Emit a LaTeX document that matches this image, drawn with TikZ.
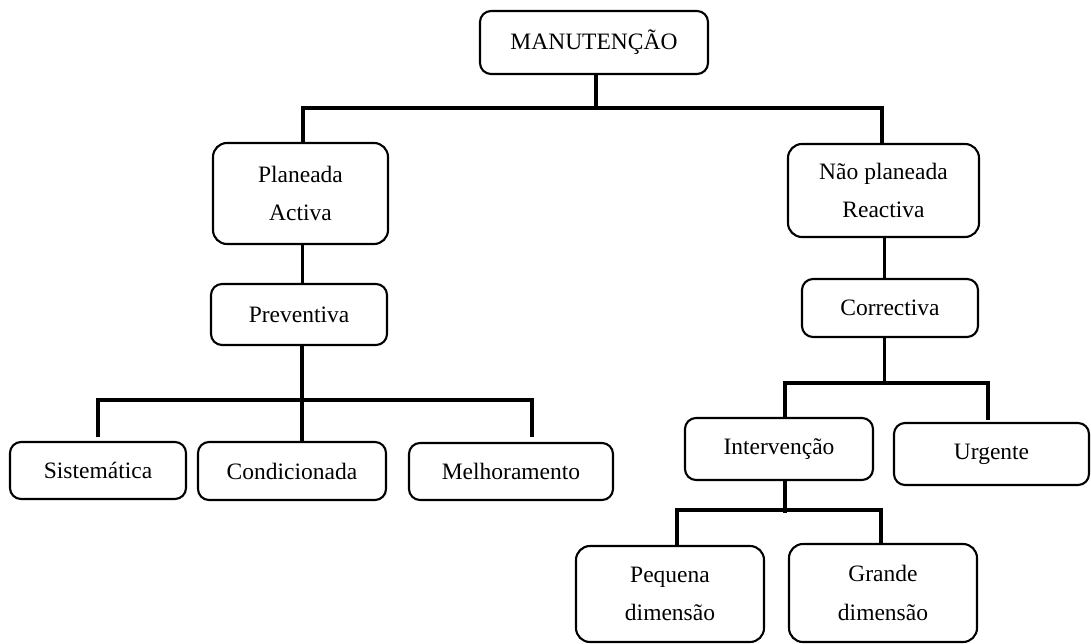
\documentclass[tikz,border=0pt]{standalone}
\usepackage{fontspec}
\setmainfont{Liberation Serif}
\begin{document}
\begin{tikzpicture}[x=1pt,y=-1pt,
  box/.style={draw=black, line width=2.1pt, rounded corners=11pt, fill=white,
    inner sep=0pt, align=center, font=\fontsize{23.5}{38.5}\selectfont},
  conn/.style={draw=black, line width=3.4pt}]
\useasboundingbox (0,0) rectangle (1091,644);

% nodes
\node[box, minimum width=228pt, minimum height=63pt]  (top) at (594,42.5) {MANUTENÇÃO};
\node[box, minimum width=175pt, minimum height=101pt, rounded corners=14pt] (pl) at (300.5,193.5) {Planeada\\Activa};
\node[box, minimum width=191pt, minimum height=93pt, rounded corners=14pt]  (np) at (883.5,190.5) {Não planeada\\Reactiva};
\node[box, minimum width=176pt, minimum height=61pt]  (pv) at (299,314.5) {Preventiva};
\node[box, minimum width=176pt, minimum height=58pt]  (co) at (890,308) {Correctiva};
\node[box, minimum width=176pt, minimum height=57pt]  (si) at (98,470.5) {Sistemática};
\node[box, minimum width=188pt, minimum height=58pt]  (cd) at (292,471) {Condicionada};
\node[box, minimum width=204pt, minimum height=57pt]  (me) at (511,471.5) {Melhoramento};
\node[box, minimum width=188pt, minimum height=62pt]  (iv) at (779,449) {Intervenção};
\node[box, minimum width=195pt, minimum height=62pt]  (ur) at (991.5,454) {Urgente};
\node[box, minimum width=188pt, minimum height=96pt, rounded corners=14pt]  (pq) at (670,594) {Pequena\\dimensão};
\node[box, minimum width=188pt, minimum height=98pt, rounded corners=14pt]  (gr) at (883,593) {Grande\\dimensão};

% bus coordinates
\coordinate (b1)  at (596,108);
\coordinate (b1l) at (303,108);
\coordinate (b1r) at (882,108);
\coordinate (c1)  at (302.5,0);
\coordinate (c2)  at (302,0);
\coordinate (b2l) at (98,400);
\coordinate (b2r) at (532,400);
\coordinate (e2l) at (98,437);
\coordinate (e2r) at (532,437);
\coordinate (b3)  at (884.5,383);
\coordinate (b3l) at (785,383);
\coordinate (b3r) at (988,383);
\coordinate (e3r) at (988,420);
\coordinate (e4)  at (785,513);
\coordinate (b4l) at (677,510);
\coordinate (b4r) at (881,510);

% connectors
\draw[conn] (b1 |- top.south) -- (b1);
\draw[conn] (b1l |- pl.north) -- (b1l) -- (b1r) -- (b1r |- np.north);
\draw[conn] (c1 |- pl.south) -- (c1 |- pv.north);
\draw[conn] (c2 |- pv.south) -- (c2 |- cd.north);
\draw[conn] (e2l) -- (b2l) -- (b2r) -- (e2r);
\draw[conn] (b3 |- np.south) -- (b3 |- co.north);
\draw[conn] (b3 |- co.south) -- (b3);
\draw[conn] (b3l |- iv.north) -- (b3l) -- (b3r) -- (e3r);
\draw[conn] (e4 |- iv.south) -- (e4);
\draw[conn] (b4l |- pq.north) -- (b4l) -- (b4r) -- (b4r |- gr.north);
\end{tikzpicture}
\end{document}
